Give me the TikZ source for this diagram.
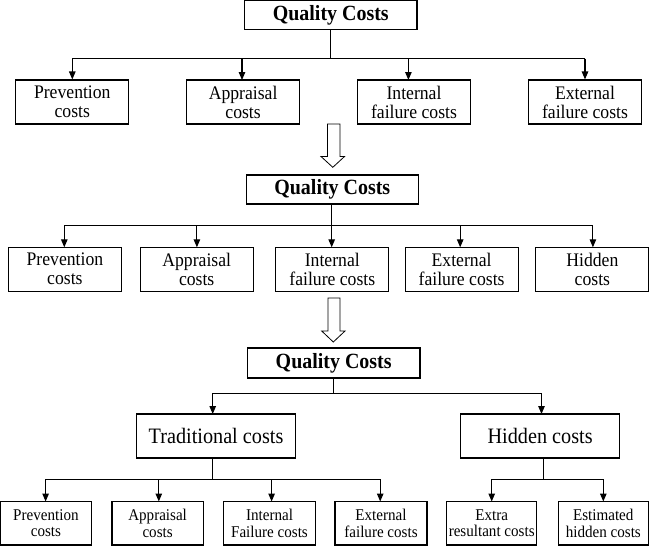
\documentclass[tikz,border=0pt]{standalone}
\usepackage{fontspec}
\setmainfont{Liberation Serif}[FakeStretch=0.92]
\usetikzlibrary{arrows.meta}
\tikzset{
  box/.style={draw=black, line width=1.1pt, rectangle, inner sep=0pt, align=center, text=black},
  titlebox/.style={box, minimum width=172.5pt, minimum height=29pt, font=\fontsize{21.7}{23}\selectfont\bfseries},
  midbox/.style={box, minimum width=113pt, minimum height=44pt, font=\fontsize{19.2}{19}\selectfont},
  bigbox/.style={box, minimum width=158.4pt, minimum height=44pt, font=\fontsize{22}{23}\selectfont},
  smallbox/.style={box, minimum height=43.5pt, font=\fontsize{16.4}{16.7}\selectfont},
  conn/.style={draw=black, line width=1.1pt},
  arr/.style={conn, -{Triangle[length=8pt,width=6.5pt]}},
  hollow/.style={draw=black, line width=0.8pt, fill=white, line join=miter}
}
\begin{document}
\begin{tikzpicture}[x=1pt,y=-1pt]
\useasboundingbox[fill=white] (0,0) rectangle (650,546);

% ---------- Section 1 ----------
\node[titlebox, minimum height=28.7pt] (q1) at (330.75,15) {Quality Costs};
\node[midbox] (a1) at (72.3,102) {Prevention\\costs};
\node[midbox] (b1) at (243.1,102) {Appraisal\\costs};
\node[midbox] (c1) at (414,102) {Internal\\failure costs};
\node[midbox] (d1) at (585,102) {External\\failure costs};
\coordinate (j1) at (330.5,58.5);
\draw[conn] (q1.south -| j1) -- (j1);
\draw[conn] (j1 -| a1.north) -- (j1 -| d1.north);
\draw[arr] (j1 -| a1.north) -- (a1.north);
\draw[arr] (j1 -| 242,0) -- (242,80);
\draw[arr] (j1 -| 408.4,0) -- (408.4,80);
\draw[arr] (j1 -| d1.north) -- (d1.north);

% hollow arrow 1
\draw[hollow] (327.5,124) -- (327.5,156.5) -- (321,156.5) -- (332.8,167.3) -- (344.5,156.5) -- (340,156.5) -- (340,124) -- cycle;

% ---------- Section 2 ----------
\node[titlebox] (q2) at (332.3,189.5) {Quality Costs};
\node[midbox, minimum height=43.7pt] (a2) at (64.9,269.2) {Prevention\\costs};
\node[midbox, minimum height=43.7pt] (b2) at (196.7,269.2) {Appraisal\\costs};
\node[midbox, minimum height=43.7pt] (c2) at (332.3,269.2) {Internal\\failure costs};
\node[midbox, minimum height=43.7pt] (d2) at (461.6,269.2) {External\\failure costs};
\node[midbox, minimum height=43.7pt] (e2) at (592.4,269.2) {Hidden\\costs};
\coordinate (j2) at (331.7,225.3);
\draw[conn] (q2.south -| j2) -- (j2);
\draw[conn] (j2 -| 64.3,0) -- (j2 -| 592.9,0);
\draw[arr] (j2 -| 64.3,0) -- (64.3,247.3);
\draw[arr] (j2 -| 196.9,0) -- (196.9,247.3);
\draw[arr] (j2) -- (331.7,247.3);
\draw[arr] (j2 -| 460.2,0) -- (460.2,247.3);
\draw[arr] (j2 -| 592.9,0) -- (592.9,247.3);

% hollow arrow 2
\draw[hollow] (328,298) -- (328,331) -- (321.7,331) -- (333.3,342) -- (345,331) -- (340,331) -- (340,298) -- cycle;

% ---------- Section 3 ----------
\node[titlebox, minimum height=30pt] (q3) at (333.7,363) {Quality Costs};
\node[bigbox] (tr) at (216,436) {Traditional costs};
\node[bigbox] (hd) at (540.1,436) {Hidden costs};
\coordinate (j3) at (333.7,393.3);
\draw[conn] (q3.south -| j3) -- (j3);
\draw[conn] (j3 -| 212.7,0) -- (j3 -| 541.5,0);
\draw[arr] (j3 -| 212.7,0) -- (212.7,414);
\draw[arr] (j3 -| 541.5,0) -- (541.5,414);

\node[smallbox, minimum width=90.6pt] (p3) at (45.9,523.2) {Prevention\\costs};
\node[smallbox, minimum width=91.2pt] (a3) at (157.6,523.2) {Appraisal\\costs};
\node[smallbox, minimum width=91.2pt] (i3) at (269.5,523.2) {Internal\\Failure costs};
\node[smallbox, minimum width=92pt] (e3) at (381,523.2) {External\\failure costs};
\node[smallbox, minimum width=90pt] (x3) at (491.7,523.2) {Extra\\resultant costs};
\node[smallbox, minimum width=90.5pt] (s3) at (603.3,523.2) {Estimated\\hidden costs};

\coordinate (j4) at (212.5,479.3);
\draw[conn] (tr.south -| j4) -- (j4);
\draw[conn] (j4 -| 45.6,0) -- (j4 -| 380.2,0);
\draw[arr] (j4 -| 45.6,0) -- (45.6,501.5);
\draw[arr] (j4 -| 158.8,0) -- (158.8,501.5);
\draw[arr] (j4 -| 271.6,0) -- (271.6,501.5);
\draw[arr] (j4 -| 380.2,0) -- (380.2,501.5);

\coordinate (j5) at (543.3,479.3);
\draw[conn] (hd.south -| j5) -- (j5);
\draw[conn] (j5 -| 491.7,0) -- (j5 -| 603.3,0);
\draw[arr] (j5 -| 491.7,0) -- (491.7,501.5);
\draw[arr] (j5 -| 603.3,0) -- (603.3,501.5);
\end{tikzpicture}
\end{document}
